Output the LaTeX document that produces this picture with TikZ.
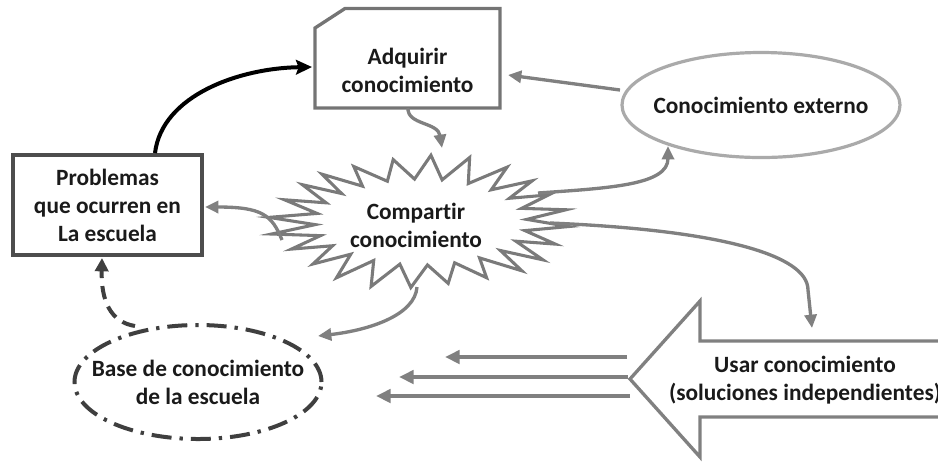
\documentclass[tikz,border=0pt]{standalone}
\usepackage{fontspec}
\setmainfont{Carlito}[Ligatures=NoCommon]
\usetikzlibrary{arrows.meta,calc,shapes.geometric}
\definecolor{textc}{HTML}{1A1A1A}
\definecolor{conngray}{HTML}{808080}
\definecolor{adqgray}{HTML}{747474}
\definecolor{probgray}{HTML}{4D4D4D}
\definecolor{extgray}{HTML}{AAAAAA}
\definecolor{sbgray}{HTML}{7A7A7A}
\definecolor{basegray}{HTML}{3F3F3F}
\begin{document}
\begin{tikzpicture}[x=0.75pt,y=-0.75pt,
  txt/.style={font=\bfseries\fontsize{17.5}{21}\selectfont, text=textc, align=center, inner sep=0pt},
  conn/.style={draw=conngray, line width=2.5pt, -{Triangle[length=10pt,width=9pt]}},
  smallarrow/.style={draw=conngray, line width=3pt, -{Triangle[length=11pt,width=10pt]}},
  blackarrow/.style={draw=black, line width=3pt, -{Stealth[length=12pt,width=11pt,inset=2pt]}},
  dasharrow/.style={draw=basegray, line width=3pt, dash pattern=on 10pt off 6pt, -{Triangle[length=10pt,width=10pt]}},
  boxline/.style={line width=2.5pt, line join=miter},
]
\useasboundingbox (0,0) rectangle (938,462);
\clip (0,0) rectangle (938,462);

% nodes
\node[txt, draw=probgray, line width=3pt, minimum width=141.75pt, minimum height=75pt] (prob) at (107.5,205) {Problemas\\que ocurren en\\La escuela};
\node[txt] (adq) at (407.5,70.5) {Adquirir\\conocimiento};
\node[txt, ellipse, draw=extgray, line width=2.4pt, inner xsep=-14pt, minimum width=208.5pt, minimum height=78.75pt] (ext) at (761,105) {Conocimiento externo};
\node[txt] (comp) at (416,225) {Compartir\\conocimiento};
\node[txt, ellipse, draw=basegray, line width=3pt, inner xsep=-24pt, minimum width=185.25pt, minimum height=85.5pt,
      dash pattern=on 15pt off 6pt on 2.5pt off 6pt] (base) at (198,382) {Base de conocimiento\\de la escuela};
\node[txt] (usar) at (805,380.5) {Usar conocimiento\\(soluciones independientes)};

% Adquirir box with cut corner
\draw[draw=adqgray, boxline]
  ($(adq.center)+(-92.5,37.5)$) -- ($(adq.center)+(92.5,37.5)$) -- ($(adq.center)+(92.5,-62)$)
  -- ($(adq.center)+(-62.5,-62)$) -- ($(adq.center)+(-92.5,-42.5)$) -- cycle;

% starburst
\draw[draw=sbgray, line width=2.3pt, line join=miter, shift={($(comp.center)+(5,-3)$)}]
  plot[samples at={0,...,47}, variable=\k]
  ({(mod(\k,2)==0 ? 148*(1+0.04*sin(\k*137)) : 106)*cos(\k*7.5+4)},
   {(mod(\k,2)==0 ? 65*(1+0.05*sin(\k*211)) : 43)*sin(\k*7.5+4)}) -- cycle;

% big arrow
\coordinate (tip) at ($(usar.center)+(-175,-1.5)$);
\draw[draw=conngray, line width=2.5pt, line join=miter]
  ($(usar.center)+(150,-39.5)$) -- ($(usar.center)+(-105,-39.5)$) -- ($(usar.center)+(-105,-79.5)$)
  -- (tip) -- ($(usar.center)+(-105,76.5)$) -- ($(usar.center)+(-105,36.5)$) -- ($(usar.center)+(150,36.5)$);

% small arrows
\draw[smallarrow] ($(tip)+(-3,-22)$) -- ($(tip)+(-185,-22)$);
\draw[smallarrow] ($(tip)+(-2,-2)$) -- ($(tip)+(-231,-2)$);
\draw[smallarrow] ($(tip)+(0,17)$) -- ($(tip)+(-254,17)$);

% connectors
\draw[blackarrow] ($(prob.center)+(47.5,-52)$) .. controls +(7,-58) and +(-72,1) .. ($(adq.center)+(-95.5,-3.5)$);
\draw[conn] ($(adq.center)+(0.5,37.5)$) .. controls +(-1,17) and +(-4,-26) .. ($(comp.center)+(26,-77)$);
\draw[conn] ($(ext.center)+(-141,-15)$) -- ($(adq.center)+(100.5,4.5)$);
\draw[conn] ($(comp.center)+(122,-32)$) .. controls +(72,-5) and +(0,39) .. ($(ext.center)+(-93,41)$);
\draw[conn] ($(comp.center)+(-134,15)$) .. controls +(-10,-25) and +(57,0) .. ($(prob.center)+(97.5,2)$);
\draw[conn] ($(comp.center)+(134,-2)$) .. controls +(170,7) and +(0,-35) .. ($(usar.center)+(3,-90.5)$) -- ($(usar.center)+(7,-52.5)$);
\draw[conn] ($(comp.center)+(1,62)$) .. controls +(-2,28) and +(52,-6) .. ($(base.center)+(120,-46)$);
\draw[dasharrow] ($(base.center)+(-63,-56)$) .. controls +(-25,-4) and +(-1,42) .. ($(prob.center)+(-5.5,53)$);
\end{tikzpicture}
\end{document}
